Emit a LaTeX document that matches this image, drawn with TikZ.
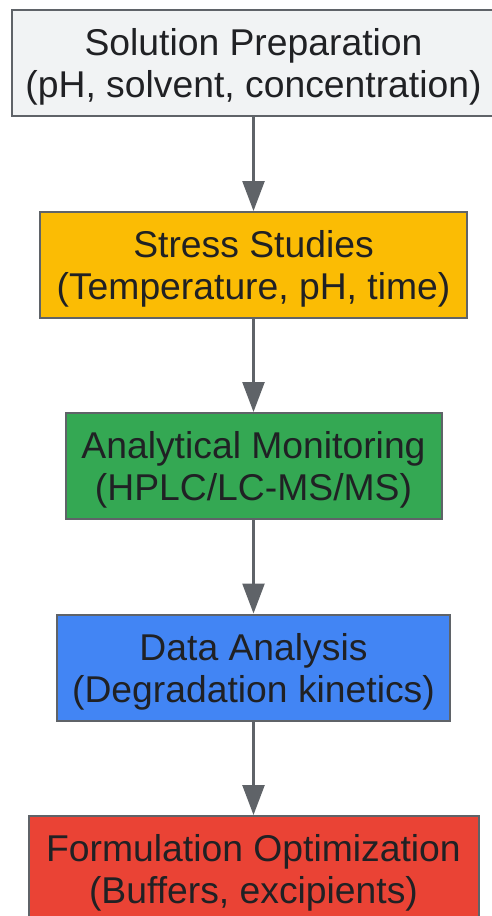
\documentclass[tikz,border=0pt]{standalone}
\usepackage{fontspec}
\setmainfont{Liberation Sans}
\usetikzlibrary{arrows.meta}
\definecolor{edgegray}{HTML}{5F6368}
\definecolor{prepgray}{HTML}{F1F3F4}
\definecolor{stressyellow}{HTML}{FBBC04}
\definecolor{monitorgreen}{HTML}{34A853}
\definecolor{datablue}{HTML}{4285F4}
\definecolor{formred}{HTML}{EA4335}
\definecolor{textdark}{HTML}{202124}
\begin{document}
\begin{tikzpicture}[x=1pt, y=1pt, line width=2pt,
  step node/.style={rectangle, draw=edgegray, minimum height=106pt, inner sep=0pt, text depth=0pt, align=center, text=textdark, font=\fontsize{37.3}{42}\selectfont},
  flow/.style={draw=edgegray, line width=2.5pt, -{Triangle[length=30pt, width=22pt]}}]
\useasboundingbox (0,0) rectangle (491,-916);
\begin{scope}
\node[step node, fill=prepgray, minimum width=484pt] (prep) at (253.5,-63) {Solution Preparation\\(pH, solvent, concentration)};
\node[step node, fill=stressyellow, minimum width=427pt] (stress) at (253.5,-265) {Stress Studies\\(Temperature, pH, time)};
\node[step node, fill=monitorgreen, minimum width=376pt] (monitor) at (253.5,-466) {Analytical Monitoring\\(HPLC/LC-MS/MS)};
\node[step node, fill=datablue, minimum width=393pt] (data) at (253.5,-667.5) {Data Analysis\\(Degradation kinetics)};
\node[step node, fill=formred, minimum width=450pt] (form) at (253.5,-869) {Formulation Optimization\\(Buffers, excipients)};
\end{scope}
\begin{scope}
\draw[flow] (prep) -- (stress);
\draw[flow] (stress) -- (monitor);
\draw[flow] (monitor) -- (data);
\draw[flow] (data) -- (form);
\end{scope}
\end{tikzpicture}
\end{document}
